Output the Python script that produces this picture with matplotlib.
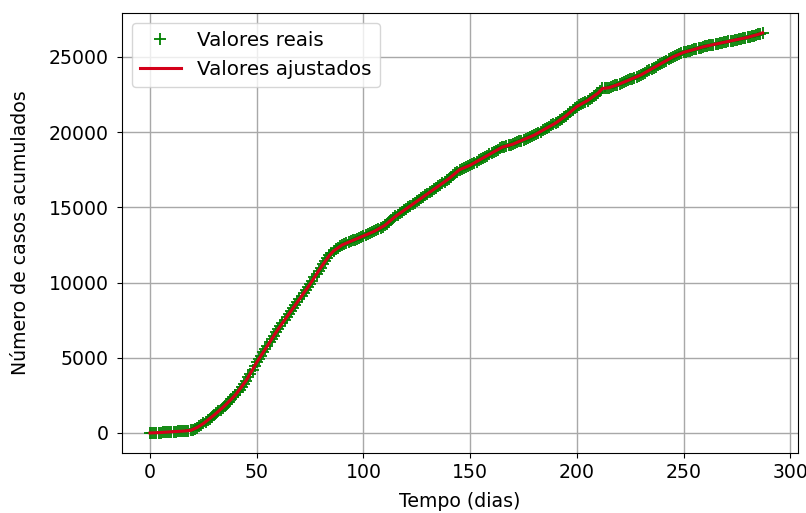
import numpy as np
import matplotlib
matplotlib.use("Agg")
import matplotlib.pyplot as plt

plt.rcParams['font.family'] = ['DejaVu Sans']
plt.rcParams['font.size'] = 13.6

# casos acumulados observados, um valor por dia (dia 0 a 287)
casos_reais = [
    0, 5, 12, 18, 22, 30, 41, 52, 63, 72,
    80, 88, 95, 104, 112, 120, 128, 137, 148, 170,
    220, 290, 360, 440, 530, 630, 730, 840, 950, 1070,
    1190, 1310, 1430, 1550, 1680, 1810, 1950, 2090, 2230, 2380,
    2530, 2700, 2880, 3070, 3270, 3480, 3700, 3930, 4170, 4430,
    4700, 4930, 5150, 5370, 5590, 5800, 6020, 6240, 6460, 6680,
    6900, 7100, 7300, 7500, 7700, 7900, 8100, 8300, 8500, 8700,
    8900, 9100, 9300, 9500, 9700, 9900, 10120, 10340, 10560, 10780,
    11000, 11200, 11400, 11600, 11800, 11950, 12100, 12200, 12300, 12400,
    12500, 12560, 12620, 12680, 12740, 12800, 12860, 12920, 12980, 13040,
    13100, 13160, 13220, 13280, 13340, 13400, 13480, 13560, 13640, 13720,
    13800, 13920, 14040, 14160, 14280, 14400, 14500, 14600, 14700, 14800,
    14900, 15000, 15100, 15200, 15300, 15400, 15500, 15600, 15700, 15800,
    15900, 16000, 16100, 16200, 16300, 16400, 16500, 16600, 16700, 16800,
    16900, 17020, 17140, 17260, 17380, 17500, 17560, 17620, 17680, 17740,
    17800, 17880, 17960, 18040, 18120, 18200, 18280, 18360, 18440, 18520,
    18600, 18680, 18760, 18840, 18920, 19000, 19040, 19080, 19120, 19160,
    19200, 19260, 19320, 19380, 19440, 19500, 19560, 19620, 19680, 19740,
    19800, 19880, 19960, 20040, 20120, 20200, 20280, 20360, 20440, 20520,
    20600, 20700, 20800, 20900, 21000, 21100, 21220, 21340, 21460, 21580,
    21700, 21780, 21860, 21940, 22020, 22100, 22200, 22300, 22400, 22500,
    22600, 22750, 22900, 22920, 22940, 22950, 23000, 23050, 23100, 23150,
    23200, 23260, 23320, 23380, 23440, 23500, 23560, 23620, 23680, 23740,
    23800, 23880, 23960, 24040, 24120, 24200, 24280, 24360, 24440, 24520,
    24600, 24680, 24760, 24840, 24920, 25000, 25060, 25120, 25180, 25240,
    25300, 25340, 25380, 25420, 25460, 25500, 25540, 25580, 25620, 25660,
    25700, 25730, 25760, 25790, 25820, 25850, 25880, 25910, 25940, 25970,
    26000, 26030, 26060, 26090, 26120, 26150, 26180, 26210, 26240, 26270,
    26300, 26340, 26380, 26420, 26460, 26500, 26550, 26600,
]
dias = np.arange(len(casos_reais))

# curva ajustada
dias_ajuste = [0, 5, 10, 15, 19, 22, 25, 30, 35, 40, 45, 50, 55, 60, 65, 70, 75, 80,
               84, 86, 90, 95, 100, 105, 110, 115, 120, 125, 130, 135, 140, 145, 150,
               155, 160, 165, 170, 175, 180, 185, 190, 195, 200, 205, 210, 212, 215,
               220, 225, 230, 235, 240, 245, 250, 255, 260, 265, 270, 275, 280, 285, 287]
casos_ajuste = [0, 30, 80, 120, 170, 360, 630, 1190, 1810, 2530, 3480, 4700, 5800, 6900,
                7900, 8900, 9900, 11000, 11800, 12100, 12500, 12800, 13100, 13400, 13800,
                14400, 14900, 15400, 15900, 16400, 16900, 17500, 17800, 18200, 18600,
                19000, 19200, 19500, 19800, 20200, 20600, 21100, 21700, 22100, 22600,
                22900, 22950, 23200, 23500, 23800, 24200, 24600, 25000, 25300, 25500,
                25700, 25850, 26000, 26150, 26300, 26500, 26600]

fig = plt.figure(figsize=(8.06, 5.13), dpi=100)
ax = fig.add_subplot(1, 1, 1)
fig.subplots_adjust(left=0.151, right=0.990, top=0.975, bottom=0.117)

ax.plot(dias, casos_reais, '+', color='green', markersize=8, markeredgewidth=1.3, label='Valores reais')
ax.plot(dias_ajuste, casos_ajuste, '-', color='#d4001a', linewidth=2.2, label='Valores ajustados')

ax.set_xlim(-13.3, 303.6)
ax.set_ylim(-1330, 27930)
ax.set_xlabel('Tempo (dias)')
ax.set_ylabel('Número de casos acumulados')
ax.yaxis.set_label_coords(-0.136, 0.5)
ax.xaxis.set_label_coords(0.5, -0.088)
ax.tick_params(axis='y', pad=6)
ax.tick_params(axis='x', pad=4)
ax.grid(True, color='#a8a8a8', linewidth=1.0)
ax.legend(loc='upper left', handlelength=2.1, fontsize=14.3)

fig.savefig('out.png', dpi=100)
